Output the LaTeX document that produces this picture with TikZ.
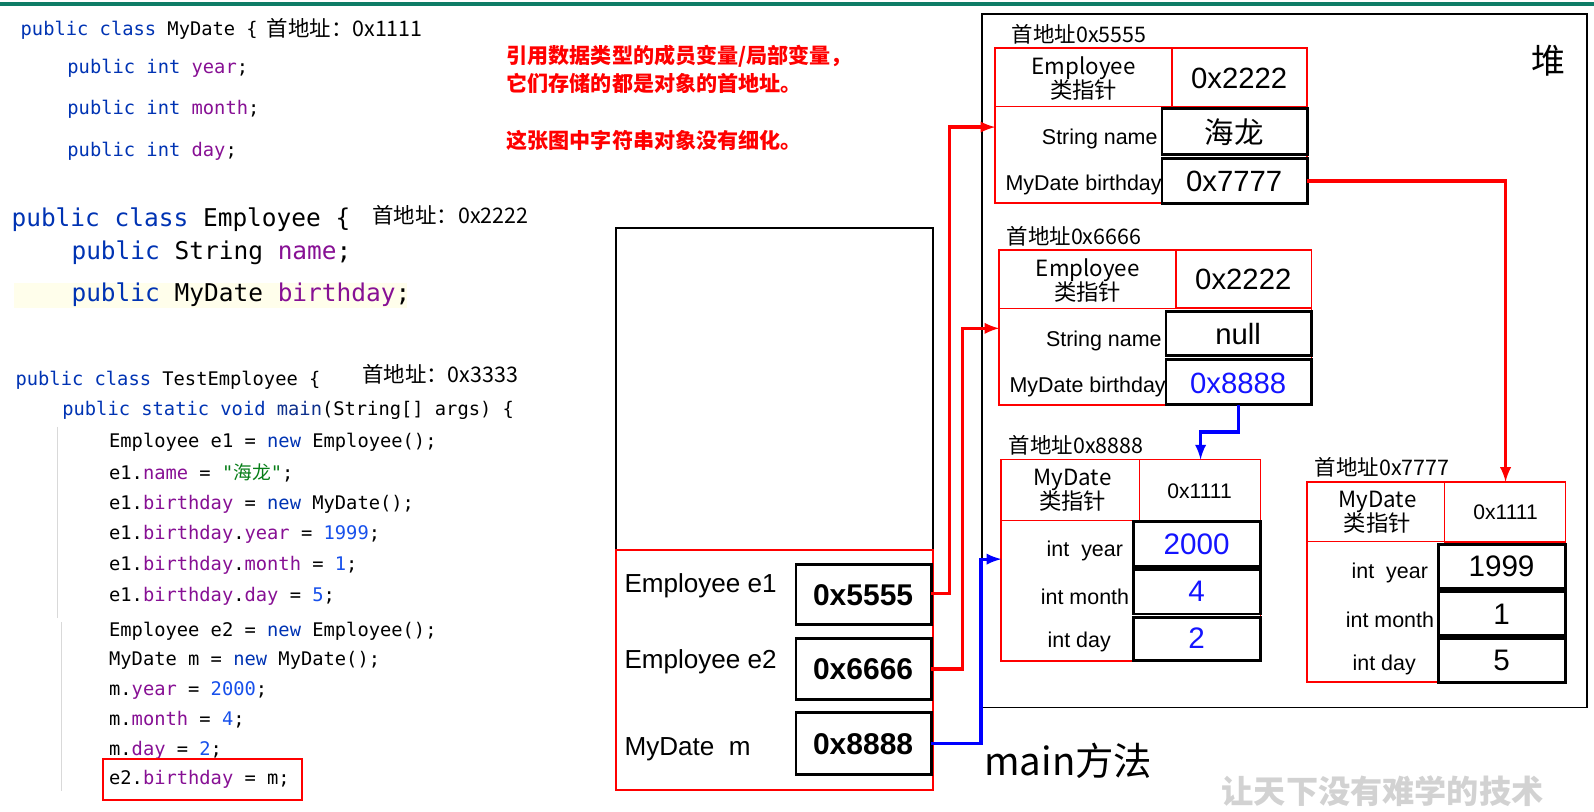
\documentclass[tikz,border=0pt]{standalone}
\usepackage{fontspec}
\setmainfont{Liberation Sans}
\setmonofont{DejaVu Sans Mono}
\newfontfamily\cjk{Noto Sans CJK SC}
\definecolor{kwblue}{HTML}{0033B3}
\definecolor{fldpurple}{HTML}{871094}
\definecolor{numblue}{HTML}{1750EB}
\definecolor{strgreen}{HTML}{067D17}
\definecolor{topgreen}{HTML}{0E7C66}
\definecolor{valblue}{RGB}{20,20,255}
\newcommand{\kw}[1]{\textcolor{kwblue}{#1}}
\newcommand{\fld}[1]{\textcolor{fldpurple}{#1}}
\newcommand{\num}[1]{\textcolor{numblue}{#1}}
\newcommand{\fs}[1]{\fontsize{#1}{#1}\selectfont}

\begin{document}
\begin{tikzpicture}[x=0.02cm,y=-0.02cm,
  code/.style={anchor=west,inner sep=0,font=\ttfamily\fs{10.5pt}},
  bigcode/.style={anchor=west,inner sep=0,font=\ttfamily\fs{13.7pt}},
  addr/.style={anchor=west,inner sep=0,font=\cjk\fs{12pt}},
  note/.style={anchor=west,inner sep=0,text=red,font=\cjk\bfseries\fs{11.8pt}},
  field/.style={inner sep=0,font=\fs{12pt}},
  ptr/.style={inner sep=0,align=center,font=\cjk\fs{12.5pt},text depth=0pt},
  valbox/.style={draw,line width=1.6pt},
  redbox/.style={draw=red,line width=1pt},
  stackval/.style={inner sep=0,font=\bfseries\fs{16.8pt}},
  redarr/.style={red,line width=1.8pt,-latex},
  bluearr/.style={blue,line width=1.8pt,-latex}]
\useasboundingbox (0,0) rectangle (1568,798);
\draw[topgreen,line width=2pt] (0,4) -- (1568,4);

% source code
\node[code] (c1) at (20,30) {\kw{public class} MyDate \{};
\node[addr] (a1) at (262,28) {首地址：0x1111};
\node[code] (c2) at (66,67) {\kw{public int} \fld{year};};
\node[code] (c3) at (66,107) {\kw{public int} \fld{month};};
\node[code] (c4) at (66,149) {\kw{public int} \fld{day};};
\node[bigcode] (c5) at (11,216) {\kw{public class} Employee \{};
\node[addr] (a2) at (366,212) {首地址：0x2222};
\node[bigcode] (c6) at (70,249) {\kw{public} String \fld{name};};
\fill[yellow!8] (14,278) rectangle (400,303);
\node[bigcode] (c7) at (70,290) {\kw{public} MyDate \fld{birthday};};
\node[code] (c8) at (15,374) {\kw{public class} TestEmployee \{};
\node[addr] (a3) at (356,368) {首地址：0x3333};
\node[code] (c9) at (61,404) {\kw{public static void} \textcolor{numblue!60!black}{main}(String[] args) \{};
\node[code] (d1) at (107,435) {Employee e1 = \kw{new} Employee();};
\node[code] (d2) at (107,465) {e1.\fld{name} = \textcolor{strgreen}{"{\cjk 海龙}"};};
\node[code] (d3) at (107,496) {e1.\fld{birthday} = \kw{new} MyDate();};
\node[code] (d4) at (107,526) {e1.\fld{birthday}.\fld{year} = \num{1999};};
\node[code] (d5) at (107,556) {e1.\fld{birthday}.\fld{month} = \num{1};};
\node[code] (d6) at (107,587) {e1.\fld{birthday}.\fld{day} = \num{5};};
\node[code] (d7) at (107,621) {Employee e2 = \kw{new} Employee();};
\node[code] (d8) at (107,650) {MyDate m = \kw{new} MyDate();};
\node[code] (d9) at (107,679) {m.\fld{year} = \num{2000};};
\node[code] (d10) at (107,708) {m.\fld{month} = \num{4};};
\node[code] (d11) at (107,738) {m.\fld{day} = \num{2};};
\node[code] (d12) at (107,767) {e2.\fld{birthday} = m;};
\draw[red,line width=1.2pt] (101,747) rectangle (297,787);
\draw[gray!30] (56,420) -- (56,608) (60,612) -- (60,778);

% notes
\node[note] (n1) at (498,55) {引用数据类型的成员变量/局部变量，};
\node[note] (n2) at (498,82) {它们存储的都是对象的首地址。};
\node[note] (n3) at (498,138) {这张图中字符串对象没有细化。};

% stack
\draw[line width=1pt] (606,224) rectangle (918,777);
\draw[redbox] (606,541) rectangle (918,777);
\node[anchor=west,inner sep=0,font=\fs{14.6pt}] (s1) at (614,576) {Employee e1};
\node[anchor=west,inner sep=0,font=\fs{14.6pt}] (s2) at (614,651) {Employee e2};
\node[anchor=west,inner sep=0,font=\fs{14.6pt}] (s3) at (614,737) {MyDate\ \ m};
\draw[valbox] (783,555) rectangle (916,614); \node[stackval] (v1) at (849,585) {0x5555};
\draw[valbox] (783,628) rectangle (916,688); \node[stackval] (v2) at (849,658) {0x6666};
\draw[valbox] (783,701) rectangle (916,762); \node[stackval] (v3) at (849,732) {0x8888};
\node[anchor=west,inner sep=0,font=\cjk\fs{21.5pt}] (mainlbl) at (968,748) {main方法};

% heap
\draw[line width=1pt] (966,14) rectangle (1561,696);
\node[inner sep=0,font=\cjk\fs{19pt}] (heap) at (1523,60) {堆};

% object 0x5555
\node[addr] (h1) at (995,34) {首地址0x5555};
\draw[redbox] (979,47) rectangle (1286,200);
\draw[red] (979,105) -- (1153,105);
\draw[redbox] (1153,47) rectangle (1286,105);
\node[ptr] (p1) at (1066,76) {Employee\\[-1pt]类指针};
\node[inner sep=0,font=\fs{16.4pt}] (k1) at (1219,77) {0x2222};
\node[field,anchor=east] (f1) at (1139,137) {String name};
\draw[valbox] (1143,107) rectangle (1286,152); \node[inner sep=0,font=\cjk\fs{16.5pt}] (x1) at (1214,130) {海龙};
\node[field,anchor=east] (f2) at (1143,182) {MyDate birthday};
\draw[valbox] (1143,156) rectangle (1286,200); \node[inner sep=0,font=\fs{16.4pt}] (x2) at (1214,178) {0x7777};

% object 0x6666
\node[addr] (h2) at (990,232) {首地址0x6666};
\draw[redbox] (983,246) rectangle (1290,398);
\draw[red] (983,303) -- (1157,303);
\draw[redbox] (1157,246) rectangle (1290,303);
\node[ptr] (p2) at (1070,275) {Employee\\[-1pt]类指针};
\node[inner sep=0,font=\fs{16.4pt}] (k2) at (1223,275) {0x2222};
\node[field,anchor=east] (f3) at (1143,335) {String name};
\draw[valbox] (1147,306) rectangle (1290,350); \node[inner sep=0,font=\fs{16.4pt}] (x3) at (1218,329) {null};
\node[field,anchor=east] (f4) at (1147,381) {MyDate birthday};
\draw[valbox] (1147,354) rectangle (1290,398); \node[inner sep=0,font=\fs{16.4pt},text=valblue] (x4) at (1218,377) {0x8888};

% object 0x8888
\node[addr] (h3) at (992,438) {首地址0x8888};
\draw[redbox] (985,452) rectangle (1240,650);
\draw[red] (985,512) -- (1121,512);
\draw[redbox] (1121,452) rectangle (1240,512);
\node[ptr] (p3) at (1055,481) {MyDate\\[-1pt]类指针};
\node[inner sep=0,font=\fs{11.8pt}] (k3) at (1180,483) {0x1111};
\node[field,anchor=east] (f5) at (1105,542) {int\ \ year};
\node[field,anchor=east] (f6) at (1111,587) {int month};
\node[field,anchor=east] (f7) at (1093,631) {int day};
\draw[valbox] (1115,513) rectangle (1240,557); \node[inner sep=0,font=\fs{16.6pt},text=valblue] (y1) at (1177,535) {2000};
\draw[valbox] (1115,560) rectangle (1240,604); \node[inner sep=0,font=\fs{16.6pt},text=valblue] (y2) at (1177,582) {4};
\draw[valbox] (1115,607) rectangle (1240,650); \node[inner sep=0,font=\fs{16.6pt},text=valblue] (y3) at (1177,628) {2};

% object 0x7777
\node[addr] (h4) at (1293,460) {首地址0x7777};
\draw[redbox] (1286,474) rectangle (1540,671);
\draw[red] (1286,533) -- (1421,533);
\draw[redbox] (1421,474) rectangle (1540,533);
\node[ptr] (p4) at (1355,503) {MyDate\\[-1pt]类指针};
\node[inner sep=0,font=\fs{11.8pt}] (k4) at (1481,504) {0x1111};
\node[field,anchor=east] (f8) at (1405,564) {int\ \ year};
\node[field,anchor=east] (f9) at (1411,610) {int month};
\node[field,anchor=east] (f10) at (1393,654) {int day};
\draw[valbox] (1415,536) rectangle (1540,579); \node[inner sep=0,font=\fs{16.6pt}] (z1) at (1477,557) {1999};
\draw[valbox] (1415,582) rectangle (1540,625); \node[inner sep=0,font=\fs{16.6pt}] (z2) at (1477,604) {1};
\draw[valbox] (1415,628) rectangle (1540,671); \node[inner sep=0,font=\fs{16.6pt}] (z3) at (1477,650) {5};

% references
\coordinate (o1) at (979,125);
\coordinate (o2) at (983,323);
\coordinate (o3) at (985,550);
\coordinate (o3t) at (1181,452);
\coordinate (o4t) at (1481,474);
\draw[redarr] (916,584) -- (934,584) |- (o1);
\draw[redarr] (916,658) -- (947,658) |- (o2);
\draw[bluearr] (916,731) -- (965,731) |- (o3);
\draw[bluearr] (1218,398) -- (1218,425) -| (o3t);
\draw[redarr] (1286,178) -| (o4t);

\node[inner sep=0,text=gray!35,font=\cjk\bfseries\fs{18pt}] (wm) at (1360,778) {让天下没有难学的技术};
\end{tikzpicture}
\end{document}
